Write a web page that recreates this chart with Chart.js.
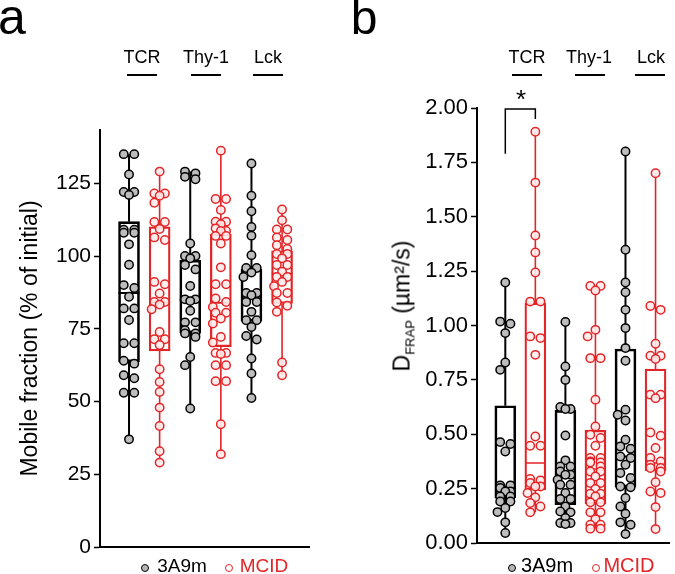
<!DOCTYPE html>
<html>
<head>
<meta charset="utf-8">
<script src="https://cdn.jsdelivr.net/npm/chart.js@4.4.0/dist/chart.umd.min.js"></script>
<style>
  body { margin: 0; background: #fff; }
  #wrap { position: relative; width: 675px; height: 574px; overflow: hidden; background: #fff;
          font-family: 'Liberation Sans', Arial, Helvetica, sans-serif; color: #000; }
  canvas { position: absolute; top: 0; }
  .txt { position: absolute; white-space: nowrap; line-height: 1; transform: translate(-50%, -50%); }
  .rule { position: absolute; height: 2px; width: 30px; background: #000; }
  .dot { position: absolute; width: 6px; height: 6px; border-radius: 50%; border: 1.5px solid #000;
         background: #b5b5b5; transform: translate(-50%, -50%); }
  .dot.red { border-color: #e42527; background: #fff; }
  .red { color: #e42527; }
</style>
</head>
<body>
<div id="wrap">
  <canvas id="chartA" width="340" height="574" style="left:0"></canvas>
  <canvas id="chartB" width="338" height="574" style="left:337px"></canvas>

  <!-- panel letters -->
  <div class="txt" style="left:12px;top:17px;font-size:50px">a</div>
  <div class="txt" style="left:364px;top:18px;font-size:48px">b</div>

  <!-- group headers -->
  <div class="txt" style="left:142px;top:57px;font-size:18px">TCR</div>
  <div class="txt" style="left:206px;top:57px;font-size:18px">Thy-1</div>
  <div class="txt" style="left:268px;top:57px;font-size:18px">Lck</div>
  <div class="rule" style="left:127px;top:74px"></div>
  <div class="rule" style="left:191px;top:74px"></div>
  <div class="rule" style="left:253px;top:74px"></div>

  <div class="txt" style="left:527px;top:57px;font-size:18px">TCR</div>
  <div class="txt" style="left:589px;top:57px;font-size:18px">Thy-1</div>
  <div class="txt" style="left:651px;top:57px;font-size:18px">Lck</div>
  <div class="rule" style="left:512px;top:74px"></div>
  <div class="rule" style="left:575px;top:74px"></div>
  <div class="rule" style="left:635px;top:74px"></div>

  <!-- significance -->
  <div class="txt" style="left:521px;top:99px;font-size:26px">*</div>

  <!-- y title of panel b -->
  <div class="txt" style="left:402px;top:306px;font-size:23px;transform:translate(-50%,-50%) rotate(-90deg)">D<span style="font-size:13px;position:relative;top:5px">FRAP</span> (µm²/s)</div>

  <!-- legends -->
  <div class="dot" style="left:145px;top:568px"></div>
  <div class="txt" style="left:182px;top:565px;font-size:19px">3A9m</div>
  <div class="dot red" style="left:229px;top:568px"></div>
  <div class="txt red" style="left:264px;top:565px;font-size:19px">MCID</div>

  <div class="dot" style="left:512px;top:568px"></div>
  <div class="txt" style="left:547px;top:565px;font-size:20px">3A9m</div>
  <div class="dot red" style="left:596px;top:568px"></div>
  <div class="txt red" style="left:629px;top:565px;font-size:20px">MCID</div>
</div>

<script>
// ====================================
// Data
// ====================================

const RED = '#e42527';
const GREY = '#bdbdbd';

const groups = ['TCR', 'Thy-1', 'Lck'];
const series = ['3A9m', 'MCID'];

// (a) mobile fraction, % of initial
const mfTcr3A9m = [135, 135, 128, 122, 122, 121, 109, 109, 108, 108, 104, 97, 90, 89, 86, 82, 82, 78, 70, 70, 64, 63, 58, 59, 53, 53, 37];
const mfTcrMcid = [129, 121.5, 121.5, 120.7, 118.3, 111.7, 111.7, 109.3, 106.4, 105.5, 91.1, 90.3, 87.1, 84.2, 84.2, 83.3, 81.7, 73.9, 71.4, 71.4, 69.4, 61.1, 56.7, 53.3, 47.9, 41.6, 32.9, 29];
const mfThy3A9m = [129, 128.4, 127.2, 126.4, 104.3, 100, 100, 99.2, 96.9, 95.4, 89.7, 85.1, 85.1, 84.5, 81.2, 77.2, 77.2, 74.5, 73.4, 73.4, 72.2, 65.3, 62.5, 47.6];
const mfThyMcid = [136.2, 119.6, 119.6, 115.8, 111.8, 111.8, 110.9, 109.5, 108.6, 108.6, 106.9, 106.9, 104.3, 96.1, 90.3, 90.3, 85.4, 84.2, 82.5, 80.5, 80.5, 78.5, 76.8, 72.2, 70.3, 66.7, 66.7, 66.3, 62.5, 62.5, 57, 57, 42.2, 31.9];
const mfLck3A9m = [131.8, 120.7, 115.4, 110, 107, 100.3, 95.9, 95.9, 94.3, 92.8, 87.3, 87.3, 86.5, 84.2, 84.2, 80.8, 77.9, 77.9, 75.6, 72.5, 71.3, 64.8, 59.6, 51.2];
const mfLckMcid = [116, 112.3, 109.1, 109.1, 106.4, 105.5, 103.7, 102.4, 100.7, 100.7, 99.2, 96.9, 96.9, 94.6, 92.8, 92.8, 91.1, 89.6, 87.3, 87.3, 84, 82.9, 80.8, 63.4, 59];

// box stats, order: TCR 3A9m, TCR MCID, Thy-1 3A9m, Thy-1 MCID, Lck 3A9m, Lck MCID
const mfMin = [37, 29, 47.6, 31.9, 51.2, 59];
const mfQ1 = [63.6, 67.4, 73.6, 68.8, 77.6, 83.7];
const mfMed = [87.3, 84, 85, 83.9, 86, 94];
const mfQ3 = [111.8, 110, 98.6, 107.5, 95.4, 101.8];
const mfMax = [135, 129, 129, 136.2, 131.8, 116];
const mfTicks = [0, 25, 50, 75, 100, 125];

// (b) D_FRAP, µm²/s
const dTcr3A9m = [1.198, 1.018, 1.008, 0.965, 0.83, 0.796, 0.464, 0.455, 0.421, 0.265, 0.265, 0.253, 0.237, 0.237, 0.214, 0.214, 0.191, 0.191, 0.161, 0.142, 0.095, 0.046];
const dTcrMcid = [1.891, 1.657, 1.414, 1.336, 1.244, 1.11, 1.11, 0.95, 0.942, 0.865, 0.49, 0.447, 0.447, 0.294, 0.288, 0.276, 0.26, 0.26, 0.23, 0.21, 0.184, 0.168, 0.141];
const dThy3A9m = [1.016, 0.812, 0.75, 0.625, 0.616, 0.616, 0.494, 0.38, 0.352, 0.352, 0.329, 0.314, 0.314, 0.291, 0.268, 0.268, 0.23, 0.202, 0.202, 0.168, 0.145, 0.141, 0.115, 0.092, 0.092, 0.087];
const dThyMcid = [1.182, 1.182, 1.161, 0.98, 0.95, 0.85, 0.85, 0.659, 0.536, 0.498, 0.483, 0.447, 0.391, 0.391, 0.375, 0.37, 0.37, 0.352, 0.329, 0.329, 0.306, 0.276, 0.276, 0.248, 0.227, 0.227, 0.214, 0.187, 0.187, 0.141, 0.141, 0.11, 0.084, 0.084, 0.066, 0.066];
const dLck3A9m = [1.8, 1.348, 1.198, 1.153, 1.072, 0.988, 0.896, 0.838, 0.613, 0.59, 0.563, 0.475, 0.444, 0.433, 0.398, 0.391, 0.36, 0.322, 0.299, 0.26, 0.256, 0.207, 0.168, 0.135, 0.095, 0.084, 0.041];
const dLckMcid = [1.7, 1.09, 1.072, 0.916, 0.861, 0.861, 0.846, 0.682, 0.682, 0.666, 0.508, 0.493, 0.437, 0.391, 0.375, 0.36, 0.345, 0.345, 0.329, 0.279, 0.237, 0.23, 0.165, 0.064];

const dMin = [0.046, 0.141, 0.087, 0.066, 0.041, 0.064];
const dQ1 = [0.207, 0.245, 0.176, 0.181, 0.257, 0.332];
const dMed = [0.26, 0.368, 0.3, 0.34, 0.398, 0.368];
const dQ3 = [0.631, 1.103, 0.61, 0.518, 0.892, 0.8];
const dMax = [1.198, 1.891, 1.016, 1.182, 1.8, 1.7];
const dTicks = [0, 0.25, 0.5, 0.75, 1, 1.25, 1.5, 1.75, 2];

// significance bracket TCR 3A9m vs MCID (left leg, top, top, right leg)
const bracketY = [1.79, 1.995, 1.995, 1.95];
const bracketX = [1, 1, 2, 2];

// ====================================
// Helpers
// ====================================

Chart.defaults.font.family = "'Liberation Sans', Arial, Helvetica, sans-serif";
Chart.defaults.color = '#000';

// Scatter layout: near-equal values are paired side by side,
// lone points slide sideways to avoid sitting on top of a neighbour
function swarm(values, pxPerUnit, xPerPx) {
  const sorted = values.slice().sort((a, b) => b - a);
  const rows = [];
  sorted.forEach(v => {
    const row = rows[rows.length - 1];
    if (row && row.length < 2 && (row[0] - v) * pxPerUnit < 4) row.push(v);
    else rows.push([v]);
  });
  const placed = [];
  const step = 10.5;
  rows.forEach(row => {
    const yPx = row[0] * pxPerUnit;
    let shift = 0;
    if (row.length === 1) {
      const cands = [0, -5.25, 5.25, -8, 8];
      let best = 0, bestD = -1;
      for (const c of cands) {
        let d = Infinity;
        placed.forEach(p => { d = Math.min(d, Math.hypot(p.px - c, p.ypx - yPx)); });
        if (d >= 8.5) { best = c; bestD = d; break; }
        if (d > bestD) { bestD = d; best = c; }
      }
      shift = best;
    }
    row.forEach((v, i) => {
      const px = shift + (i - (row.length - 1) / 2) * step;
      placed.push({ px, ypx: v * pxPerUnit, v });
    });
  });
  return placed.map(p => ({ dx: p.px * xPerPx, y: p.v }));
}

function makePanel(canvasId, o) {
  const colors = ['#000', RED];
  const pts = [[], []];
  const whisk = [[], []];
  const meds = [[], []];
  const half = 10.5 * o.xPerPx;

  o.points.forEach((vals, i) => {
    swarm(vals, o.pxPerUnit, o.xPerPx).forEach(p => pts[i % 2].push({ x: i + 1 + p.dx, y: p.y }));
  });

  o.min.forEach((mn, i) => {
    const x = i + 1;
    const k = i % 2;
    whisk[k].push({ x, y: mn }, { x, y: o.q1[i] }, { x, y: null },
                  { x, y: o.q3[i] }, { x, y: o.max[i] }, { x, y: null });
    meds[k].push({ x: x - half, y: o.med[i] }, { x: x + half, y: o.med[i] }, { x, y: null });
  });

  const datasets = [];
  [0, 1].forEach(k => {
    datasets.push({
      type: 'scatter', label: series[k], data: pts[k], order: 0,
      pointRadius: 4.2, borderWidth: 1.5,
      backgroundColor: k ? 'rgba(255,236,236,0.9)' : GREY,
      borderColor: colors[k]
    });
    datasets.push({
      type: 'line', data: meds[k], order: 1, borderColor: colors[k],
      borderWidth: k ? 1.6 : 2, pointRadius: 0, spanGaps: false
    });
    datasets.push({
      type: 'line', data: whisk[k], order: 2, borderColor: colors[k],
      borderWidth: k ? 1.6 : 2, pointRadius: 0, spanGaps: false
    });
  });

  datasets.push({
    type: 'bar', order: 1,
    data: o.q1.map((q, i) => ({ x: i + 1, y: [q, o.q3[i]] })),
    barThickness: 21, borderSkipped: false,
    borderColor: o.q1.map((_, i) => colors[i % 2]),
    borderWidth: o.q1.map((_, i) => (i % 2 ? 1.6 : 2)),
    backgroundColor: 'rgba(0,0,0,0)'
  });

  if (o.bracket) {
    datasets.push({
      type: 'line', order: 0, borderColor: '#000', borderWidth: 1.5, pointRadius: 0,
      data: o.bracket.x.map((x, i) => ({ x, y: o.bracket.y[i] }))
    });
  }

  return new Chart(document.getElementById(canvasId), {
    type: 'scatter',
    data: { datasets },
    options: {
      responsive: false,
      animation: false,
      events: [],
      layout: { padding: o.padding },
      plugins: { legend: { display: false }, tooltip: { enabled: false } },
      scales: {
        x: {
          type: 'linear', min: o.xMin, max: o.xMax, offset: false,
          afterFit: s => { s.height = 0; },
          ticks: { display: false },
          grid: { display: false },
          border: { color: '#000', width: 2 }
        },
        y: {
          type: 'linear', min: 0, max: o.yMax,
          afterFit: s => { s.width = o.yAxisWidth; },
          afterBuildTicks: s => { s.ticks = o.ticks.map(v => ({ value: v })); },
          ticks: { color: '#000', font: { size: o.tickSize }, padding: 3, callback: o.fmt },
          grid: { drawOnChartArea: false, drawTicks: true, tickLength: 6, tickWidth: 1.5, color: '#000' },
          border: { color: '#000', width: 2 },
          title: o.title || { display: false }
        }
      }
    }
  });
}

// ====================================
// Panels
// ====================================

makePanel('chartA', {
  points: [mfTcr3A9m, mfTcrMcid, mfThy3A9m, mfThyMcid, mfLck3A9m, mfLckMcid],
  min: mfMin, q1: mfQ1, med: mfMed, q3: mfQ3, max: mfMax, ticks: mfTicks,
  yMax: 143.3, xMin: 0.052, xMax: 6.88,
  pxPerUnit: 2.908, xPerPx: 0.03267,
  padding: { top: 130, bottom: 27, left: 0, right: 31 },
  yAxisWidth: 100, tickSize: 21,
  fmt: v => String(v),
  title: {
    display: true, text: 'Mobile fraction (% of initial)', color: '#000',
    font: { size: 23 }, padding: { top: 17, bottom: 0 }
  }
});

makePanel('chartB', {
  points: [dTcr3A9m, dTcrMcid, dThy3A9m, dThyMcid, dLck3A9m, dLckMcid],
  min: dMin, q1: dQ1, med: dMed, q3: dQ3, max: dMax, ticks: dTicks,
  yMax: 2, xMin: 0.058, xMax: 6.458,
  pxPerUnit: 217.7, xPerPx: 0.03249,
  padding: { top: 108, bottom: 31, left: 0, right: 1 },
  yAxisWidth: 140, tickSize: 22,
  fmt: v => Number(v).toFixed(2),
  bracket: { x: bracketX, y: bracketY }
});
</script>
</body>
</html>
